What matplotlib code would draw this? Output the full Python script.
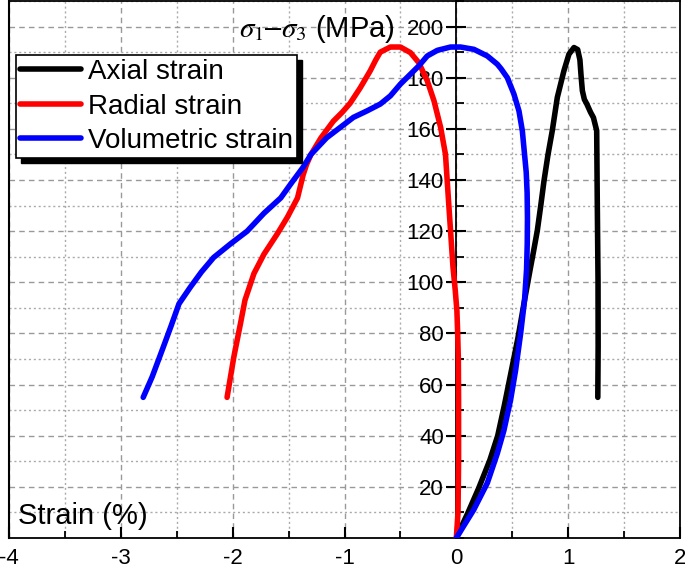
import matplotlib
matplotlib.use('Agg')
import matplotlib.pyplot as plt
from matplotlib.ticker import MultipleLocator
from matplotlib.patches import Rectangle

plt.rcParams['font.family'] = ['Liberation Sans', 'DejaVu Sans']
plt.rcParams['mathtext.fontset'] = 'stix'
plt.rcParams['axes.unicode_minus'] = False

# axial strain (black)
axial_x = [0, 0.03, 0.1, 0.2, 0.3, 0.37, 0.43, 0.49, 0.55, 0.61, 0.66, 0.69,
           0.724, 0.755, 0.784, 0.82, 0.858, 0.903, 0.962, 1.007, 1.052, 1.085, 1.105, 1.115,
           1.127, 1.145, 1.166, 1.20, 1.226, 1.255, 1.26, 1.267, 1.268, 1.265]
axial_y = [0, 3, 9.5, 19.5, 30.5, 40, 52, 65, 78, 93, 105, 112,
           120.2, 130, 139.7, 150, 159.3, 172.3, 182.7, 189.2, 191.8, 191, 187, 181,
           174.9, 171.5, 169.8, 166.5, 164.4, 159.3, 133, 100.7, 75, 55]

# radial strain (red)
radial_x = [0, 0.015, 0.02, 0.02, 0.018, 0.012, 0.005, -0.01, -0.03, -0.05, -0.07, -0.097,
            -0.14, -0.20, -0.26, -0.336, -0.41, -0.50, -0.59, -0.68, -0.72, -0.77, -0.86,
            -0.95, -1.02, -1.10, -1.21, -1.30, -1.34, -1.37, -1.42, -1.51, -1.60, -1.72,
            -1.81, -1.89, -1.93, -1.99, -2.05]
radial_y = [0, 10, 30, 54, 70, 80, 89, 97, 106, 119, 132, 150,
            160.5, 171, 178.8, 185.9, 189.8, 192, 192, 190, 187, 182.7, 176,
            170, 166.5, 163, 156.5, 150, 146, 142, 133, 125.5, 119, 111,
            103.4, 93, 83.9, 70.7, 55]

# volumetric strain (blue)
vol_x = [0, 0.07, 0.155, 0.277, 0.366, 0.425, 0.485, 0.53, 0.575, 0.61, 0.628, 0.634, 0.636,
         0.633, 0.625, 0.61, 0.59, 0.56, 0.515, 0.456, 0.40, 0.366, 0.277, 0.157, 0.038,
         -0.052, -0.17, -0.26, -0.336, -0.41, -0.50, -0.59, -0.68, -0.80, -0.92, -1.04,
         -1.16, -1.30, -1.37, -1.48, -1.57, -1.72, -1.87, -2.02, -2.17, -2.28, -2.38,
         -2.48, -2.55, -2.62, -2.72, -2.80]
vol_y = [0, 5, 11, 21.5, 33, 42, 54, 65.6, 80, 93, 105, 115, 125,
         135, 143, 150, 159.3, 167, 173.6, 180, 183.5, 185.3, 188.5, 191.1, 192,
         192, 190.7, 188.5, 184.6, 181.4, 177.5, 172.9, 169.7, 167, 164.5, 160.5,
         156.5, 150, 145, 138.5, 133, 127, 120, 115, 109.7, 104, 98,
         91.6, 83, 74.7, 63, 55]

x_ticks = [-4, -3, -2, -1, 0, 1, 2]
y_ticks = [20, 40, 60, 80, 100, 120, 140, 160, 180, 200]

fig = plt.figure(figsize=(6.85, 5.68), dpi=100)
ax = fig.add_axes([9 / 685, 30 / 568, 671 / 685, 537 / 568])

lw = 4
ax.plot(axial_x, axial_y, color='black', lw=lw, label='Axial strain', zorder=3,
        solid_capstyle='round', solid_joinstyle='round')
ax.plot(radial_x, radial_y, color='#ff0000', lw=lw, label='Radial strain', zorder=3,
        solid_capstyle='round', solid_joinstyle='round')
ax.plot(vol_x, vol_y, color='#0000ff', lw=lw, label='Volumetric strain', zorder=3,
        solid_capstyle='round', solid_joinstyle='round')

ax.set_xlim(-4, 2)
ax.set_ylim(0, 210)
ax.set_xticks(x_ticks)
ax.set_yticks(y_ticks)
ax.xaxis.set_minor_locator(MultipleLocator(0.5))
ax.yaxis.set_minor_locator(MultipleLocator(10))

ax.spines['left'].set_position(('data', 0))
for s in ax.spines.values():
    s.set_linewidth(1.3)
ax.axvline(-4, color='black', lw=1.5, clip_on=False, zorder=2.5)

ax.grid(which='major', color='#999999', lw=1, linestyle=(0, (4, 3)))
ax.grid(which='minor', color='#aaaaaa', lw=1, linestyle=(0, (1.5, 2)))
ax.set_axisbelow(True)

ax.tick_params(axis='x', which='major', direction='in', length=8, width=1.5, labelsize=16, pad=7)
ax.tick_params(axis='x', which='minor', direction='in', length=5, width=1.3)
ax.tick_params(axis='y', which='major', direction='inout', length=14, width=1.5, labelsize=16, pad=2)
ax.tick_params(axis='y', which='minor', direction='in', length=6, width=1.3)

ax.text(-3.92, 5.5, 'Strain (%)', fontsize=21, ha='left', va='baseline')
ax.text(-1.94, 196, '$\\sigma_1$\u2013$\\sigma_3$ (MPa)', fontsize=21, ha='left', va='baseline')

handles, labels = ax.get_legend_handles_labels()
leg = fig.legend(handles, labels, loc='upper left', bbox_to_anchor=(16 / 685, 1 - 55 / 568),
                 borderaxespad=0, fontsize=20, frameon=True, fancybox=False,
                 edgecolor='black', framealpha=1, handlelength=2.2, handletextpad=0.25,
                 labelspacing=0.3, borderpad=0.15)
leg.get_frame().set_linewidth(1.2)
leg.set_zorder(10)

# black drop shadow behind the legend box (figure level, above the axes)
fig.canvas.draw()
bb = leg.get_frame().get_window_extent()
W, H = fig.bbox.width, fig.bbox.height
shadow = Rectangle(((bb.x0 + 5) / W, (bb.y0 - 5) / H), bb.width / W, bb.height / H,
                   facecolor='black', edgecolor='black', transform=fig.transFigure, zorder=9)
fig.add_artist(shadow)

fig.savefig('out.png', dpi=100)
